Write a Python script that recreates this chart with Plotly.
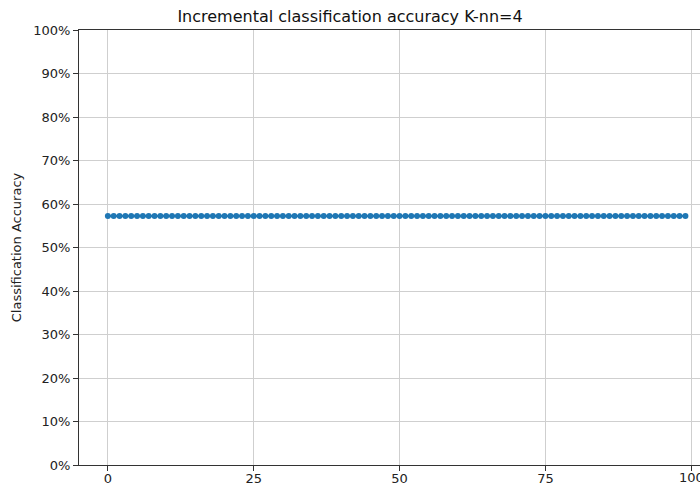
import plotly.graph_objects as go

iterations = list(range(100))
accuracy = [0.5725] * 100
y_ticks = [i / 10 for i in range(11)]
x_ticks = [0, 25, 50, 75, 100]
title = "Incremental classification accuracy K-nn=4"
y_label = "Classification Accuracy"

fig = go.Figure()
fig.add_trace(go.Scatter(
    x=iterations, y=accuracy, mode="lines+markers",
    line=dict(color="#1f77b4", width=2),
    marker=dict(color="#1f77b4", size=6),
    showlegend=False,
))

tick_font = dict(family="DejaVu Sans", size=13, color="#222222")
axis_common = dict(
    showline=True, linecolor="#333333", linewidth=1,
    ticks="outside", ticklen=5, tickcolor="#333333",
    showgrid=True, gridcolor="#cfcfcf", gridwidth=1,
    zeroline=False, automargin=False,
    tickfont=tick_font,
)

fig.update_layout(
    width=700, height=486,
    margin=dict(l=79, r=0, t=30, b=21),
    paper_bgcolor="white", plot_bgcolor="white",
    title=dict(text=title, x=0.5, xanchor="center", y=1 - 16 / 486, yanchor="middle",
               font=dict(family="DejaVu Sans", size=16, color="#111111")),
    xaxis=dict(range=[-4.95, 101.5], tickvals=x_ticks, mirror=True,
               ticklabelstandoff=-4, **axis_common),
    yaxis=dict(range=[0, 1], tickvals=y_ticks, tickformat=".0%",
               title=dict(text=y_label, standoff=8,
                          font=dict(family="DejaVu Sans", size=13, color="#222222")),
               **axis_common),
)

# last tick label sits at the page edge (partly cut in the reference)
fig.add_annotation(x=x_ticks[-1], y=0, xref="x", yref="paper", text=str(x_ticks[-1]),
                   showarrow=False, xanchor="center", yanchor="top", yshift=-3,
                   font=tick_font)

fig.write_html("out.html")
